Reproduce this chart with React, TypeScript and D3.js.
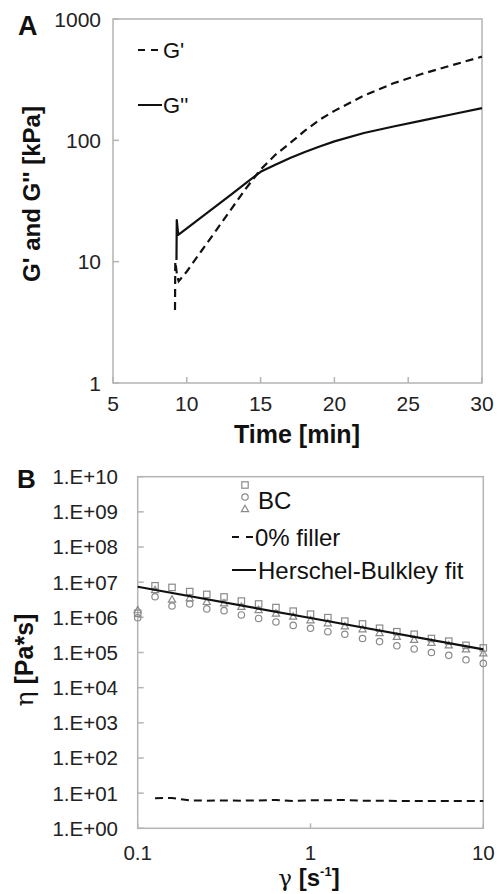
import React from "react";
import * as d3 from "d3";

// ---------- Panel A data ----------
const gPrimeTime = [9.2, 9.22, 9.35, 9.45, 10, 11, 12, 13, 14, 15, 16, 17, 18, 19, 20, 22, 24, 26, 28, 30];
const gPrimeVal = [4.0, 10.0, 7.6, 6.9, 8.3, 12.3, 18.2, 27, 40, 57.5, 76, 95, 120, 148, 175, 234, 295, 355, 417, 490];
const gDoubleTime = [9.3, 9.32, 9.42, 10, 11, 12, 13, 14, 15, 16, 17, 18, 19, 20, 22, 24, 26, 28, 30];
const gDoubleVal = [10.3, 22, 16.6, 18.8, 23.3, 28.8, 35.7, 44.3, 55, 63, 71.6, 80, 89, 98, 115, 130, 146, 164, 184];
const timeTicks = [5, 10, 15, 20, 25, 30];
const modulusTicks = [1, 10, 100, 1000];

// ---------- Panel B data ----------
const shearRate = [0.126, 0.158, 0.2, 0.251, 0.316, 0.398, 0.501, 0.631, 0.794, 1, 1.26, 1.58, 2, 2.51, 3.16, 3.98, 5.01, 6.31, 7.94, 10];
const bcSquare = [7.9e6, 7.1e6, 5.4e6, 4.5e6, 3.8e6, 2.9e6, 2.4e6, 1.9e6, 1.5e6, 1.23e6, 9.8e5, 7.8e5, 6.5e5, 4.9e5, 3.9e5, 3.3e5, 2.5e5, 2.1e5, 1.6e5, 1.35e5];
const bcCircle = [3.85e6, 2.1e6, 2.4e6, 1.74e6, 1.55e6, 1.17e6, 9.3e5, 7.4e5, 5.9e5, 4.9e5, 3.9e5, 3.3e5, 2.5e5, 2.04e5, 1.55e5, 1.26e5, 1.0e5, 8.3e4, 6.2e4, 4.9e4];
const bcTriangle = [6.0e6, 3.2e6, 3.5e6, 2.75e6, 2.5e6, 2.0e6, 1.62e6, 1.29e6, 1.05e6, 8.3e5, 6.8e5, 5.6e5, 4.6e5, 3.6e5, 2.8e5, 2.3e5, 1.9e5, 1.6e5, 1.23e5, 9.5e4];
const firstRate = [0.1];
const firstSquare = [1.3e6];
const firstCircle = [9.7e5];
const firstTriangle = [1.6e6];
const fillerVal = [7.2, 7.3, 6.2, 6.1, 6.2, 6.1, 6.2, 6.4, 6.0, 6.3, 6.3, 6.4, 6.1, 6.1, 6.0, 6.0, 6.0, 6.0, 6.0, 6.0];
const fitRate = [0.1, 1, 10];
const fitVal = [7.4e6, 9.6e5, 1.23e5];
const rateTicks = [0.1, 1, 10];
const viscTicks = [1, 10, 100, 1e3, 1e4, 1e5, 1e6, 1e7, 1e8, 1e9, 1e10];

const FONT = "'Liberation Sans', Arial, Helvetica, sans-serif";
const GRID = "#b4b4b4";
const MARK = "#8a8a8a";
const INK = "#111";

function sciLabel(v: number) {
  const e = Math.round(Math.log10(v));
  return "1.E+" + (e < 10 ? "0" + e : String(e));
}

export default function App() {
  // Panel A scales
  const xA = d3.scaleLinear().domain([5, 30]).range([113, 482]);
  const yA = d3.scaleLog().domain([1, 1000]).range([383, 19]);
  // Panel B scales
  const xB = d3.scaleLog().domain([0.1, 10]).range([137.7, 483.3]);
  const yB = d3.scaleLog().domain([1, 1e10]).range([828.3, 476.7]);

  const lineA = d3.line<[number, number]>().x((d) => xA(d[0])).y((d) => yA(d[1]));
  const lineB = d3.line<[number, number]>().x((d) => xB(d[0])).y((d) => yB(d[1]));

  const gp = gPrimeTime.map((t, i) => [t, gPrimeVal[i]] as [number, number]);
  const gd = gDoubleTime.map((t, i) => [t, gDoubleVal[i]] as [number, number]);
  const filler = shearRate.map((r, i) => [r, fillerVal[i]] as [number, number]);
  const fit = fitRate.map((r, i) => [r, fitVal[i]] as [number, number]);

  const sq = [...firstRate.map((r, i) => [r, firstSquare[i]]), ...shearRate.map((r, i) => [r, bcSquare[i]])];
  const ci = [...firstRate.map((r, i) => [r, firstCircle[i]]), ...shearRate.map((r, i) => [r, bcCircle[i]])];
  const tr = [...firstRate.map((r, i) => [r, firstTriangle[i]]), ...shearRate.map((r, i) => [r, bcTriangle[i]])];

  const square = (cx: number, cy: number, k: string) => (
    <rect key={k} x={cx - 3.2} y={cy - 3.2} width={6.4} height={6.4} fill="none" stroke={MARK} strokeWidth={1.2} />
  );
  const circle = (cx: number, cy: number, k: string) => (
    <circle key={k} cx={cx} cy={cy} r={3.2} fill="none" stroke={MARK} strokeWidth={1.2} />
  );
  const tri = (cx: number, cy: number, k: string) => (
    <path key={k} d={`M${cx},${cy - 3.8}L${cx + 3.6},${cy + 2.6}L${cx - 3.6},${cy + 2.6}Z`} fill="none" stroke={MARK} strokeWidth={1.2} />
  );

  const [ax0, ax1] = xA.range();
  const [ay0, ay1] = yA.range();
  const [bx0, bx1] = xB.range();
  const [by0, by1] = yB.range();

  return (
    <svg width={499} height={894} style={{ position: "absolute", left: 0, top: 0, background: "#fff" }} fontFamily={FONT}>
      <rect x={0} y={0} width={499} height={894} fill="#fff" />

      {/* ---------------- Panel A ---------------- */}
      <text x={18} y={35} fontSize={27} fontWeight="bold" fill={INK}>A</text>
      <rect x={ax0} y={ay1} width={ax1 - ax0} height={ay0 - ay1} fill="none" stroke={GRID} strokeWidth={1.5} />
      {modulusTicks.map((v) => (
        <g key={"ya" + v}>
          <line x1={ax0} x2={ax0 + 6} y1={yA(v)} y2={yA(v)} stroke={GRID} strokeWidth={1.5} />
          <text x={101} y={yA(v)} dy="0.36em" textAnchor="end" fontSize={21} fill="#222">{v}</text>
        </g>
      ))}
      {timeTicks.map((v) => (
        <g key={"xa" + v}>
          <line x1={xA(v)} x2={xA(v)} y1={ay0} y2={ay0 - 6} stroke={GRID} strokeWidth={1.5} />
          <text x={xA(v)} y={403} dy="0.36em" textAnchor="middle" fontSize={21} fill="#222">{v}</text>
        </g>
      ))}
      <text x={297} y={443} textAnchor="middle" fontSize={25} fontWeight="bold" fill={INK}>Time [min]</text>
      <text transform="translate(40,194) rotate(-90)" textAnchor="middle" fontSize={24} fontWeight="bold" fill={INK}>G' and G'' [kPa]</text>

      <path d={lineA(gp) || ""} fill="none" stroke={INK} strokeWidth={2.2} strokeDasharray="8,5" />
      <path d={lineA(gd) || ""} fill="none" stroke={INK} strokeWidth={2.2} strokeLinejoin="round" />

      <line x1={138} x2={161} y1={50} y2={50} stroke={INK} strokeWidth={2} strokeDasharray="7,6" />
      <text x={163} y={50} dy="0.36em" fontSize={22} fill={INK}>G'</text>
      <line x1={138} x2={162} y1={105} y2={105} stroke={INK} strokeWidth={2} />
      <text x={163} y={105} dy="0.36em" fontSize={22} fill={INK}>G''</text>

      {/* ---------------- Panel B ---------------- */}
      <text x={17} y={488} fontSize={26} fontWeight="bold" fill={INK}>B</text>
      <rect x={bx0} y={by1} width={bx1 - bx0} height={by0 - by1} fill="none" stroke={GRID} strokeWidth={1.5} />
      {viscTicks.map((v) => (
        <g key={"yb" + v}>
          <line x1={bx0} x2={bx0 + 6} y1={yB(v)} y2={yB(v)} stroke={GRID} strokeWidth={1.5} />
          <text x={118} y={yB(v)} dy="0.36em" textAnchor="end" fontSize={20.5} fill="#222">{sciLabel(v)}</text>
        </g>
      ))}
      {rateTicks.map((v) => (
        <g key={"xb" + v}>
          <line x1={xB(v)} x2={xB(v)} y1={by0} y2={by0 - 5} stroke={GRID} strokeWidth={1.5} />
          <text x={xB(v)} y={853} dy="0.36em" textAnchor="middle" fontSize={20.5} fill="#222">{v}</text>
        </g>
      ))}
      <text x={309} y={886} textAnchor="middle" fontSize={24} fill={INK}>
        <tspan fontFamily="'DejaVu Serif', serif" fontWeight="normal" fontSize={23}>γ</tspan>
        <tspan fontWeight="bold"> [s</tspan>
        <tspan fontWeight="bold" fontSize={13} dy={-10}>-1</tspan>
        <tspan fontWeight="bold" dy={10}>]</tspan>
      </text>
      <text transform="translate(33,660) rotate(-90)" textAnchor="middle" fontSize={25} fontWeight="bold" fill={INK}>
        <tspan fontWeight="normal" fontFamily="'DejaVu Serif', serif">η</tspan> [Pa*s]
      </text>

      {sq.map((d, i) => square(xB(d[0]), yB(d[1]), "s" + i))}
      {ci.map((d, i) => circle(xB(d[0]), yB(d[1]), "c" + i))}
      {tr.map((d, i) => tri(xB(d[0]), yB(d[1]), "t" + i))}
      <path d={lineB(filler) || ""} fill="none" stroke={INK} strokeWidth={2} strokeDasharray="8,5" />
      <path d={lineB(fit) || ""} fill="none" stroke={INK} strokeWidth={2.2} />

      {square(245, 485, "ls")}
      {circle(245, 497, "lc")}
      {tri(245, 509, "lt")}
      <text x={258} y={500} dy="0.36em" fontSize={24} fill={INK}>BC</text>
      <line x1={232} x2={253} y1={537} y2={537} stroke={INK} strokeWidth={2} strokeDasharray="7,7" />
      <text x={255} y={537} dy="0.36em" fontSize={24} fill={INK}>0% filler</text>
      <line x1={232} x2={256} y1={570} y2={570} stroke={INK} strokeWidth={2} />
      <text x={258} y={570} dy="0.36em" fontSize={24} fill={INK}>Herschel-Bulkley fit</text>
    </svg>
  );
}
